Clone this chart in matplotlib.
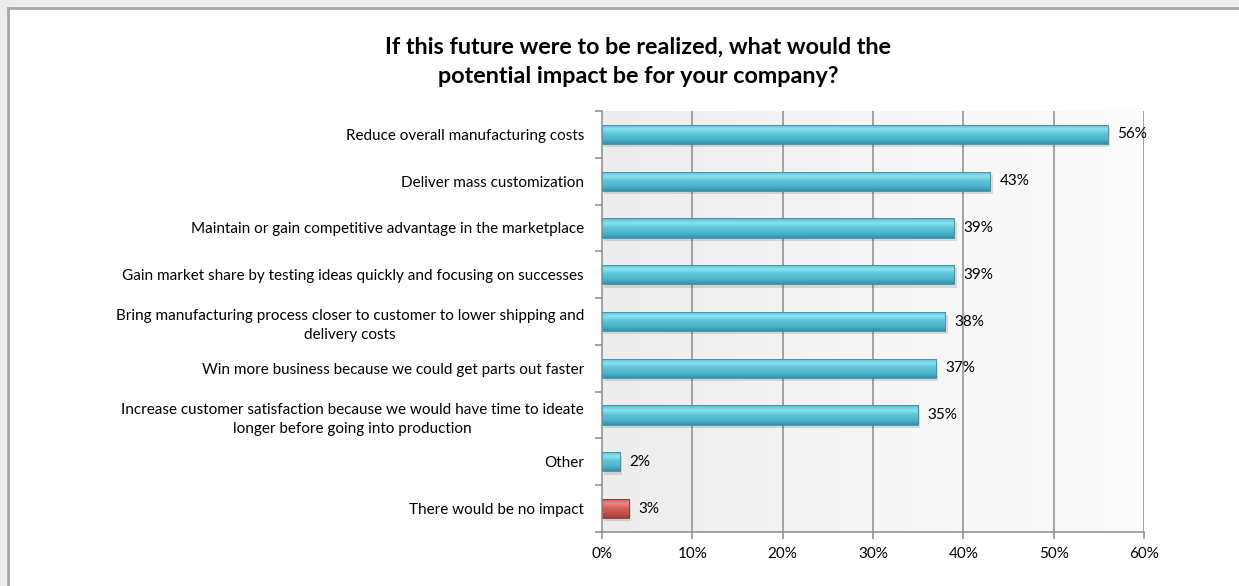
import numpy as np
import matplotlib
matplotlib.use("Agg")
import matplotlib.pyplot as plt
from matplotlib.colors import LinearSegmentedColormap
from matplotlib.lines import Line2D
from matplotlib.patches import Rectangle

plt.rcParams['font.family'] = ['Lato', 'DejaVu Sans']

title = "If this future were to be realized, what would the\npotential impact be for your company?"

categories = [
    "Reduce overall manufacturing costs",
    "Deliver mass customization",
    "Maintain or gain competitive advantage in the marketplace",
    "Gain market share by testing ideas quickly and focusing on successes",
    "Bring manufacturing process closer to customer to lower shipping and\ndelivery costs",
    "Win more business because we could get parts out faster",
    "Increase customer satisfaction because we would have time to ideate\nlonger before going into production",
    "Other",
    "There would be no impact",
]
values = [56, 43, 39, 39, 38, 37, 35, 2, 3]
x_ticks = [0, 10, 20, 30, 40, 50, 60]

blue_cmap = LinearSegmentedColormap.from_list(
    "glossy_blue", ["#3590a6", "#4db5cc", "#5cc3d8", "#8ae3f1", "#52b8ce"])
red_cmap = LinearSegmentedColormap.from_list(
    "glossy_red", ["#a03c38", "#c4504b", "#d1605a", "#e88a84", "#c24d48"])

fig = plt.figure(figsize=(12.39, 5.86), dpi=100)
fig.patch.set_facecolor("white")

# outer frame: grey edge with a soft band outside, on the top and left
W, H = 1239, 586
fig.patches.append(Rectangle((0, 0), 7 / W, 1, transform=fig.transFigure,
                             facecolor="#ececec", edgecolor="none", zorder=0))
fig.patches.append(Rectangle((0, 1 - 7 / H), 1, 7 / H, transform=fig.transFigure,
                             facecolor="#ececec", edgecolor="none", zorder=0))
fig.lines.append(Line2D([7.5 / W, 7.5 / W], [0, 1 - 7.5 / H], transform=fig.transFigure,
                        color="#a6a6a6", lw=2))
fig.lines.append(Line2D([7.5 / W, 1], [1 - 7.5 / H, 1 - 7.5 / H], transform=fig.transFigure,
                        color="#a6a6a6", lw=2))

ax = fig.add_axes([602 / W, 1 - 532 / H, (1144 - 602) / W, (532 - 111) / H])
ax.set_facecolor("none")

y = np.arange(len(categories))
ax.set_xlim(0, 60)
ax.set_ylim(len(categories) - 0.5, -0.5)

# plot area background: light grey fading to the right
bg = np.linspace(0, 1, 256).reshape(1, -1)
bg_cmap = LinearSegmentedColormap.from_list("bg", ["#ededed", "#f5f5f5", "#fcfcfc"])
ax.imshow(bg, cmap=bg_cmap, aspect="auto", extent=(0, 60, len(categories) - 0.5, -0.5),
          zorder=0)

for xt in x_ticks[1:]:
    ax.axvline(xt, color="#8c8c8c", lw=1.1, zorder=1)

bar_h = 0.41
# drop shadow under each bar
ax.barh(y + 0.07, values, height=bar_h, left=0.25, color="#000000", alpha=0.12,
        zorder=2)
bars = ax.barh(y, values, height=bar_h, color="none", edgecolor="#3a8fa3",
               linewidth=0.6, zorder=4)

grad = np.linspace(0, 1, 100).reshape(-1, 1)
for i, (bar, v) in enumerate(zip(bars, values)):
    cmap = red_cmap if i == len(values) - 1 else blue_cmap
    if i == len(values) - 1:
        bar.set_edgecolor("#8e3330")
    im = ax.imshow(grad, cmap=cmap, aspect="auto", origin="lower",
                   extent=(0, v, y[i] + bar_h / 2, y[i] - bar_h / 2), zorder=3)
    im.set_clip_path(bar)
    ax.text(v + 1.05, y[i], f"{v}%", va="center", ha="left", fontsize=11,
            color="#000000", zorder=5)

ax.set_yticks(y)
ax.set_yticklabels(categories, fontsize=11, color="#000000",
                   multialignment="center", linespacing=1.45)
ax.set_yticks(np.arange(len(categories) + 1) - 0.5, minor=True)
ax.tick_params(axis="y", which="major", length=0, pad=13)
ax.tick_params(axis="y", which="minor", length=5, color="#8c8c8c", width=1.1)

ax.set_xticks(x_ticks)
ax.set_xticklabels([f"{t}%" for t in x_ticks], fontsize=11, color="#000000")
ax.tick_params(axis="x", length=5, color="#8c8c8c", width=1.1, pad=6)

for s in ("top", "right"):
    ax.spines[s].set_visible(False)
for s in ("left", "bottom"):
    ax.spines[s].set_color("#8c8c8c")
    ax.spines[s].set_linewidth(1.1)
    ax.spines[s].set_zorder(6)

fig.text(638 / W, 1 - 62 / H, title, ha="center", va="center", fontsize=16.8,
         fontweight="bold", color="#000000", linespacing=1.45)

fig.savefig("out.png", dpi=100)
